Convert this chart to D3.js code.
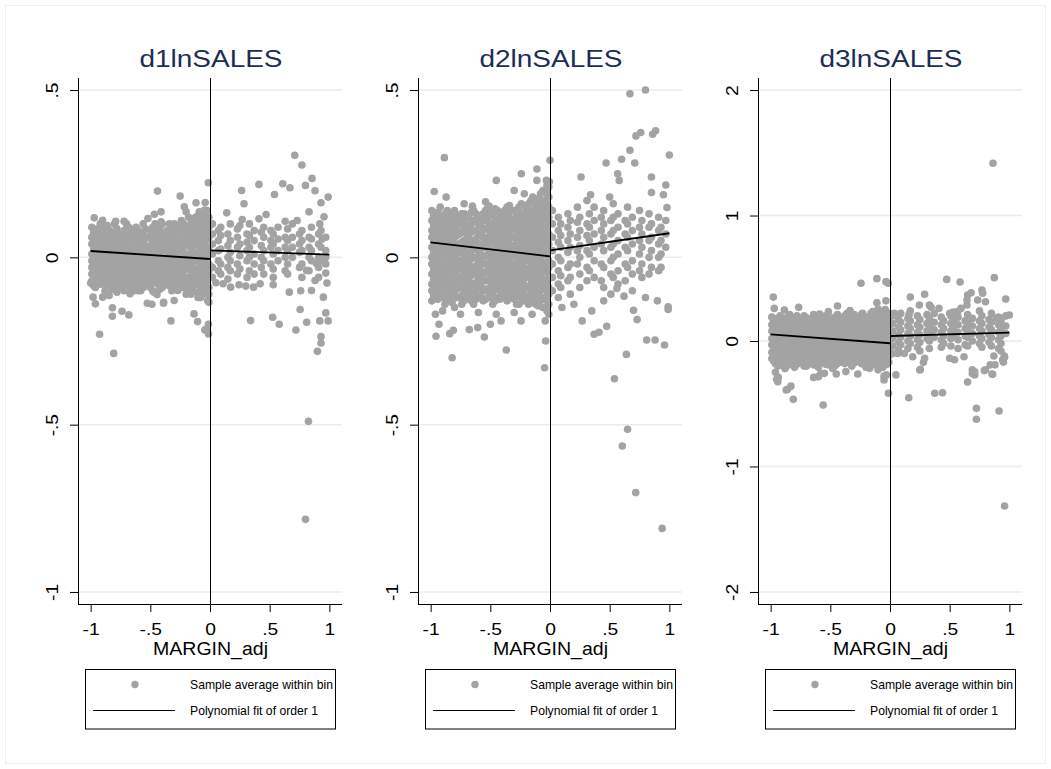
<!DOCTYPE html>
<html>
<head>
<meta charset="utf-8">
<title>RD bin plots</title>
<style>
  body { margin: 0; background: #fff; }
  text { font-family: Arial, "Liberation Sans", sans-serif; }
</style>
</head>
<body>
<script src="https://d3js.org/d3.v7.min.js"></script>
<script>

// ---- data ----
var panelTitles = ["d1lnSALES", "d2lnSALES", "d3lnSALES"];
var xTicks = [-1, -0.5, 0, 0.5, 1];
var xTickLabels = ["-1", "-.5", "0", ".5", "1"];
var yTicksA = [-1, -0.5, 0, 0.5];
var yTickLabelsA = ["-1", "-.5", "0", ".5"];
var yTicksB = [-2, -1, 0, 1, 2];
var yTickLabelsB = ["-2", "-1", "0", "1", "2"];
var legendLabels = ["Sample average within bin", "Polynomial fit of order 1"];
var xTitle = "MARGIN_adj";

// bins grouped by x column: [x, [y, ...]]
var d1Cols = [
  [-0.99, [0.09, 0.06, 0.04, 0.01, -0.01, -0.03, -0.05, -0.07]],
  [-0.96, [0.07, 0.05, 0.02, 0.0, -0.02, -0.04, -0.06, -0.09]],
  [-0.92, [0.1, 0.08, 0.05, 0.03, 0.01, -0.02, -0.04, -0.06, -0.08]],
  [-0.88, [0.09, 0.06, 0.04, 0.02, -0.01, -0.03, -0.05, -0.07, -0.1]],
  [-0.84, [0.08, 0.05, 0.03, 0.0, -0.02, -0.04, -0.06, -0.08]],
  [-0.80, [0.1, 0.07, 0.04, 0.02, -0.01, -0.03, -0.05, -0.07, -0.09]],
  [-0.76, [0.06, 0.03, 0.01, -0.02, -0.04, -0.06, -0.08]],
  [-0.72, [0.08, 0.05, 0.02, 0.0, -0.02, -0.05, -0.07, -0.1]],
  [-0.68, [0.09, 0.06, 0.04, 0.01, -0.01, -0.03, -0.06, -0.08]],
  [-0.64, [0.07, 0.05, 0.02, 0.0, -0.03, -0.05, -0.07, -0.1]],
  [-0.60, [0.08, 0.06, 0.03, 0.01, -0.01, -0.04, -0.06, -0.08]],
  [-0.56, [0.1, 0.07, 0.04, 0.02, -0.01, -0.03, -0.05, -0.07, -0.09]],
  [-0.52, [0.06, 0.03, 0.01, -0.02, -0.04, -0.06, -0.08]],
  [-0.48, [0.09, 0.07, 0.05, 0.02, 0.0, -0.02, -0.05, -0.07, -0.1]],
  [-0.44, [0.08, 0.05, 0.03, 0.01, -0.01, -0.04, -0.06, -0.08]],
  [-0.40, [0.1, 0.07, 0.04, 0.02, -0.01, -0.03, -0.05, -0.07, -0.09]],
  [-0.36, [0.08, 0.06, 0.03, 0.0, -0.02, -0.04, -0.06, -0.08]],
  [-0.32, [0.09, 0.07, 0.05, 0.02, 0.0, -0.03, -0.05, -0.07, -0.1]],
  [-0.28, [0.08, 0.06, 0.03, 0.01, -0.01, -0.04, -0.06, -0.08]],
  [-0.24, [0.11, 0.08, 0.05, 0.02, 0.0, -0.02, -0.05, -0.07, -0.09]],
  [-0.20, [0.09, 0.07, 0.04, 0.01, -0.01, -0.03, -0.06, -0.08]],
  [-0.16, [0.1, 0.08, 0.05, 0.03, 0.0, -0.02, -0.04, -0.07, -0.09, -0.11]],
  [-0.12, [0.12, 0.09, 0.06, 0.04, 0.01, -0.01, -0.04, -0.06, -0.08]],
  [-0.08, [0.11, 0.08, 0.05, 0.03, 0.0, -0.02, -0.05, -0.07, -0.09, -0.12]],
  [-0.04, [0.13, 0.1, 0.07, 0.05, 0.02, 0.0, -0.03, -0.05, -0.08, -0.1]],
  [-0.01, [0.12, 0.09, 0.06, 0.03, 0.01, -0.02, -0.04, -0.06, -0.09, -0.11]],
  [0.02, [0.1, 0.07, 0.04, 0.01, -0.03, -0.06]],
  [0.07, [0.08, 0.05, 0.02, -0.01, -0.04]],
  [0.09, [0.09, 0.065, 0.025, -0.02, -0.05]],
  [0.15, [0.07, 0.035, 0.0, -0.03, -0.065]],
  [0.17, [0.1, 0.05, 0.015, -0.01, -0.04]],
  [0.23, [0.085, 0.06, 0.03, -0.02, -0.05]],
  [0.25, [0.095, 0.04, 0.005, -0.035]],
  [0.31, [0.07, 0.045, 0.02, -0.01, -0.06]],
  [0.33, [0.1, 0.065, 0.03, 0.0, -0.04]],
  [0.37, [0.08, 0.05, 0.01, -0.02, -0.05]],
  [0.43, [0.075, 0.035, 0.0, -0.03]],
  [0.45, [0.09, 0.06, 0.02, -0.01, -0.05]],
  [0.51, [0.08, 0.05, 0.03, -0.02]],
  [0.53, [0.07, 0.04, 0.01, -0.035, -0.06]],
  [0.57, [0.09, 0.055, 0.02, -0.01]],
  [0.63, [0.06, 0.03, 0.0, -0.04]],
  [0.65, [0.085, 0.05, 0.02, -0.02, -0.05]],
  [0.69, [0.1, 0.06, 0.03, 0.0]],
  [0.75, [0.07, 0.04, 0.015, -0.03]],
  [0.77, [0.08, 0.05, 0.02, -0.02, -0.06]],
  [0.83, [0.06, 0.03, 0.0, -0.04]],
  [0.85, [0.09, 0.055, 0.02, -0.01]],
  [0.91, [0.07, 0.04, 0.0, -0.03, -0.06]],
  [0.93, [0.08, 0.03, -0.01]],
  [0.97, [0.06, 0.02, -0.02]]
];
var d1ColsB = [
  [-0.975, [0.075, 0.05, 0.025, 0.0, -0.02, -0.045, -0.065, -0.085]],
  [-0.94, [0.085, 0.065, 0.035, 0.015, -0.01, -0.03, -0.05, -0.075]],
  [-0.90, [0.07, 0.045, 0.015, -0.005, -0.03, -0.055, -0.08]],
  [-0.86, [0.095, 0.07, 0.045, 0.01, -0.015, -0.035, -0.06, -0.085]],
  [-0.82, [0.065, 0.04, 0.015, -0.01, -0.03, -0.05, -0.07, -0.095]],
  [-0.78, [0.085, 0.055, 0.03, 0.005, -0.02, -0.045, -0.065]],
  [-0.74, [0.07, 0.045, 0.02, -0.01, -0.03, -0.055, -0.09]],
  [-0.70, [0.1, 0.065, 0.035, 0.01, -0.015, -0.04, -0.065, -0.085]],
  [-0.66, [0.075, 0.05, 0.025, -0.005, -0.02, -0.045, -0.07, -0.09]],
  [-0.62, [0.09, 0.06, 0.035, 0.01, -0.015, -0.035, -0.06, -0.085]],
  [-0.58, [0.07, 0.045, 0.02, -0.005, -0.025, -0.05, -0.07, -0.1]],
  [-0.54, [0.085, 0.055, 0.03, 0.005, -0.02, -0.045, -0.065, -0.085]],
  [-0.50, [0.08, 0.06, 0.035, 0.01, -0.01, -0.035, -0.06, -0.09]],
  [-0.46, [0.1, 0.065, 0.04, 0.015, -0.01, -0.03, -0.055, -0.075]],
  [-0.42, [0.085, 0.06, 0.03, 0.005, -0.02, -0.045, -0.07, -0.095]],
  [-0.38, [0.07, 0.045, 0.02, -0.01, -0.03, -0.05, -0.075]],
  [-0.34, [0.1, 0.08, 0.06, 0.035, 0.01, -0.015, -0.04, -0.06, -0.085]],
  [-0.30, [0.09, 0.07, 0.045, 0.02, -0.005, -0.025, -0.05, -0.07, -0.095]],
  [-0.26, [0.095, 0.065, 0.04, 0.015, -0.01, -0.03, -0.055, -0.08]],
  [-0.22, [0.1, 0.08, 0.055, 0.03, 0.005, -0.015, -0.04, -0.065, -0.09]],
  [-0.18, [0.12, 0.085, 0.06, 0.035, 0.01, -0.015, -0.035, -0.06, -0.08, -0.1]],
  [-0.14, [0.11, 0.075, 0.045, 0.02, -0.005, -0.03, -0.05, -0.075, -0.1]],
  [-0.10, [0.125, 0.095, 0.07, 0.04, 0.015, -0.01, -0.035, -0.055, -0.08, -0.105]],
  [-0.06, [0.12, 0.09, 0.065, 0.04, 0.01, -0.015, -0.04, -0.06, -0.085, -0.11]],
  [-0.025, [0.14, 0.11, 0.08, 0.055, 0.03, 0.005, -0.02, -0.045, -0.07, -0.095]]
];
var d1Extra = [
  [0.71,0.305],[0.77,0.276],[0.855,0.236],[0.80,0.215],[0.88,0.199],[0.99,0.18],[0.93,0.163],[0.61,0.22],
  [0.67,0.208],[0.41,0.218],[0.54,0.188],[0.265,0.2],[0.285,0.16],[0.14,0.133],[0.27,0.113],[0.41,0.115],
  [0.47,0.128],[0.63,0.108],[0.73,0.11],[0.83,0.136],[0.955,0.121],[0.92,0.10],[0.94,0.055],[0.97,0.0],
  [0.97,-0.047],[0.89,-0.018],[0.81,-0.039],[0.88,-0.069],[0.98,-0.077],[0.95,-0.119],[0.85,-0.099],
  [0.76,-0.1],[0.665,-0.104],[0.97,-0.166],[0.99,-0.19],[0.92,-0.19],[0.81,-0.194],[0.72,-0.217],
  [0.755,-0.156],[0.58,-0.2],[0.525,-0.179],[0.34,-0.189],[0.93,-0.237],[0.93,-0.256],[0.90,-0.281],
  [0.53,-0.082],[0.42,-0.079],[0.365,-0.089],[0.30,-0.086],[0.243,-0.082],[0.173,-0.089],[0.11,-0.079],
  [0.05,-0.076],[0.825,-0.49],[0.80,-0.783],
  [-0.96,-0.139],[-0.925,-0.23],[-0.818,-0.151],[-0.818,-0.176],[-0.737,-0.161],[-0.68,-0.172],
  [-0.807,-0.287],[-0.525,-0.137],[-0.487,-0.14],[-0.39,-0.137],[-0.327,-0.19],[-0.30,-0.129],
  [-0.134,-0.169],[-0.104,-0.192],[-0.013,-0.2],[-0.043,-0.217],[-0.013,-0.229],[-0.01,-0.134],
  [-0.98,-0.119],[-0.90,-0.119],[-0.845,-0.114],[-0.78,-0.104],[-1.0,-0.077],[-0.67,-0.109],
  [-0.67,-0.089],[-0.444,-0.111],[-0.388,-0.134],[-0.47,-0.104],[-0.27,-0.099],[-0.03,-0.214],
  [-0.02,-0.129],[-0.6,-0.1],[-0.2,-0.11],[-0.1,-0.12],
  [-0.014,0.223],[-0.44,0.198],[-0.25,0.183],[-0.04,0.164],[-0.117,0.163],[-0.215,0.151],[-0.2,0.136],
  [-0.41,0.136],[-0.466,0.129],[-0.52,0.116],[-0.97,0.118],[-0.9,0.111],[-0.79,0.108],[-0.72,0.108],
  [-0.65,0.081],[-0.41,0.106],[-0.3,0.1],[-0.16,0.116],[-0.09,0.136],[-0.045,0.141]
];
var d1FitLeft = [[-1, 0.019], [0, -0.005]];
var d1FitRight = [[0, 0.021], [1, 0.008]];

var d2Cols = [
  [-0.99, [0.14, 0.11, 0.08, 0.06, 0.03, 0.0, -0.02, -0.05, -0.08, -0.1, -0.13]],
  [-0.96, [0.12, 0.09, 0.07, 0.04, 0.01, -0.01, -0.04, -0.06, -0.09, -0.12]],
  [-0.92, [0.15, 0.12, 0.1, 0.07, 0.05, 0.02, -0.01, -0.03, -0.06, -0.08, -0.11]],
  [-0.88, [0.13, 0.11, 0.08, 0.05, 0.03, 0.0, -0.02, -0.05, -0.07, -0.1, -0.14]],
  [-0.84, [0.12, 0.09, 0.06, 0.04, 0.01, -0.01, -0.04, -0.07, -0.09, -0.12]],
  [-0.80, [0.14, 0.11, 0.08, 0.06, 0.03, 0.0, -0.03, -0.05, -0.08, -0.11, -0.15]],
  [-0.76, [0.12, 0.1, 0.07, 0.04, 0.02, -0.01, -0.03, -0.06, -0.09, -0.12]],
  [-0.72, [0.13, 0.11, 0.08, 0.05, 0.03, 0.0, -0.02, -0.05, -0.07, -0.1, -0.13]],
  [-0.68, [0.12, 0.09, 0.06, 0.04, 0.01, -0.02, -0.04, -0.07, -0.1, -0.12]],
  [-0.64, [0.14, 0.11, 0.08, 0.05, 0.03, 0.0, -0.03, -0.05, -0.08, -0.11, -0.14]],
  [-0.60, [0.12, 0.1, 0.07, 0.04, 0.02, -0.01, -0.03, -0.06, -0.09, -0.12]],
  [-0.56, [0.13, 0.11, 0.08, 0.06, 0.03, 0.0, -0.02, -0.05, -0.07, -0.1, -0.13]],
  [-0.52, [0.15, 0.12, 0.09, 0.06, 0.04, 0.01, -0.02, -0.04, -0.07, -0.1, -0.12]],
  [-0.48, [0.13, 0.1, 0.08, 0.05, 0.02, 0.0, -0.03, -0.05, -0.08, -0.11, -0.14]],
  [-0.44, [0.14, 0.11, 0.09, 0.06, 0.03, 0.01, -0.02, -0.04, -0.07, -0.09, -0.12]],
  [-0.40, [0.12, 0.1, 0.07, 0.04, 0.02, -0.01, -0.03, -0.06, -0.08, -0.11]],
  [-0.36, [0.15, 0.13, 0.1, 0.08, 0.05, 0.03, 0.0, -0.02, -0.05, -0.08, -0.1, -0.13]],
  [-0.32, [0.14, 0.11, 0.09, 0.06, 0.03, 0.01, -0.02, -0.04, -0.07, -0.09, -0.12]],
  [-0.28, [0.13, 0.1, 0.08, 0.05, 0.02, 0.0, -0.03, -0.06, -0.08, -0.11, -0.14]],
  [-0.24, [0.16, 0.13, 0.11, 0.08, 0.05, 0.03, 0.0, -0.02, -0.05, -0.07, -0.1, -0.12]],
  [-0.20, [0.14, 0.12, 0.09, 0.06, 0.04, 0.01, -0.01, -0.04, -0.06, -0.09, -0.12]],
  [-0.16, [0.17, 0.14, 0.11, 0.08, 0.06, 0.03, 0.0, -0.02, -0.05, -0.08, -0.1, -0.13]],
  [-0.12, [0.15, 0.13, 0.1, 0.07, 0.05, 0.02, -0.01, -0.03, -0.06, -0.08, -0.11, -0.14]],
  [-0.08, [0.19, 0.16, 0.13, 0.1, 0.08, 0.05, 0.02, 0.0, -0.03, -0.05, -0.08, -0.1, -0.13]],
  [-0.04, [0.2, 0.17, 0.14, 0.12, 0.09, 0.06, 0.04, 0.01, -0.02, -0.04, -0.07, -0.09, -0.12, -0.15]],
  [-0.01, [0.21, 0.18, 0.15, 0.12, 0.1, 0.07, 0.04, 0.02, -0.01, -0.03, -0.06, -0.09, -0.11, -0.14, -0.17]],
  [0.02, [0.14, 0.1, 0.06, 0.02, -0.02, -0.06, -0.1]],
  [0.07, [0.12, 0.08, 0.045, 0.0, -0.04, -0.08, -0.12]],
  [0.09, [0.1, 0.065, 0.03, -0.01, -0.055, -0.09]],
  [0.15, [0.13, 0.09, 0.05, 0.015, -0.03, -0.07]],
  [0.17, [0.11, 0.07, 0.03, -0.02, -0.06, -0.11]],
  [0.23, [0.15, 0.105, 0.06, 0.02, -0.02]],
  [0.25, [0.12, 0.08, 0.035, 0.0, -0.05, -0.09]],
  [0.31, [0.17, 0.1, 0.065, 0.02, -0.03, -0.07]],
  [0.33, [0.13, 0.09, 0.05, 0.01, -0.04]],
  [0.37, [0.15, 0.11, 0.07, 0.03, -0.01, -0.06]],
  [0.43, [0.12, 0.08, 0.04, -0.02, -0.07]],
  [0.45, [0.14, 0.1, 0.06, 0.02, -0.03, -0.09]],
  [0.51, [0.11, 0.07, 0.03, -0.01, -0.05, -0.11]],
  [0.53, [0.16, 0.12, 0.08, 0.04, 0.0, -0.06]],
  [0.57, [0.13, 0.09, 0.05, 0.01, -0.04, -0.08]],
  [0.63, [0.11, 0.07, 0.03, -0.02, -0.07]],
  [0.65, [0.15, 0.1, 0.06, 0.02, -0.03]],
  [0.69, [0.12, 0.08, 0.04, -0.01, -0.05, -0.1]],
  [0.75, [0.14, 0.09, 0.05, 0.01, -0.04]],
  [0.77, [0.11, 0.07, 0.03, -0.02, -0.06]],
  [0.83, [0.13, 0.09, 0.05, 0.0, -0.05]],
  [0.85, [0.1, 0.06, 0.02, -0.03]],
  [0.91, [0.12, 0.08, 0.04, 0.0, -0.04]],
  [0.93, [0.09, 0.05, 0.01, -0.03]],
  [0.97, [0.11, 0.07, 0.03]]
];
var d2ColsB = [
  [-0.975, [0.125, 0.095, 0.07, 0.045, 0.015, -0.01, -0.035, -0.065, -0.09, -0.115]],
  [-0.94, [0.135, 0.11, 0.085, 0.055, 0.03, 0.005, -0.02, -0.045, -0.07, -0.1, -0.125]],
  [-0.90, [0.12, 0.09, 0.065, 0.035, 0.015, -0.015, -0.04, -0.065, -0.085, -0.12]],
  [-0.86, [0.14, 0.1, 0.07, 0.045, 0.02, -0.005, -0.03, -0.055, -0.08, -0.11, -0.13]],
  [-0.82, [0.13, 0.1, 0.075, 0.05, 0.02, -0.005, -0.025, -0.055, -0.08, -0.105, -0.135]],
  [-0.78, [0.125, 0.09, 0.065, 0.04, 0.01, -0.015, -0.04, -0.07, -0.095, -0.12]],
  [-0.74, [0.13, 0.1, 0.075, 0.045, 0.015, -0.01, -0.035, -0.06, -0.085, -0.115, -0.14]],
  [-0.70, [0.12, 0.095, 0.07, 0.04, 0.015, -0.015, -0.04, -0.065, -0.09, -0.11]],
  [-0.66, [0.135, 0.1, 0.075, 0.05, 0.02, -0.005, -0.03, -0.055, -0.085, -0.115, -0.13]],
  [-0.62, [0.13, 0.105, 0.08, 0.055, 0.025, 0.0, -0.025, -0.05, -0.075, -0.1, -0.125]],
  [-0.58, [0.125, 0.095, 0.065, 0.04, 0.01, -0.015, -0.04, -0.065, -0.085, -0.115]],
  [-0.54, [0.14, 0.11, 0.085, 0.055, 0.03, 0.005, -0.02, -0.045, -0.07, -0.095, -0.125]],
  [-0.50, [0.13, 0.1, 0.07, 0.045, 0.02, -0.01, -0.035, -0.06, -0.09, -0.12]],
  [-0.46, [0.145, 0.115, 0.09, 0.065, 0.035, 0.01, -0.015, -0.04, -0.065, -0.095, -0.13]],
  [-0.42, [0.13, 0.105, 0.075, 0.05, 0.025, -0.005, -0.03, -0.05, -0.08, -0.1, -0.125]],
  [-0.38, [0.14, 0.11, 0.085, 0.06, 0.035, 0.01, -0.015, -0.045, -0.07, -0.095, -0.12]],
  [-0.34, [0.155, 0.12, 0.095, 0.07, 0.04, 0.015, -0.01, -0.035, -0.06, -0.085, -0.115]],
  [-0.30, [0.14, 0.115, 0.085, 0.06, 0.035, 0.005, -0.02, -0.045, -0.07, -0.1, -0.125]],
  [-0.26, [0.15, 0.12, 0.095, 0.065, 0.04, 0.015, -0.01, -0.04, -0.065, -0.09, -0.115, -0.14]],
  [-0.22, [0.155, 0.125, 0.1, 0.07, 0.045, 0.02, -0.005, -0.03, -0.055, -0.08, -0.11, -0.13]],
  [-0.18, [0.16, 0.13, 0.1, 0.075, 0.05, 0.02, -0.005, -0.035, -0.06, -0.09, -0.115, -0.14]],
  [-0.14, [0.165, 0.14, 0.115, 0.09, 0.06, 0.035, 0.01, -0.015, -0.045, -0.07, -0.095, -0.125]],
  [-0.10, [0.175, 0.145, 0.115, 0.09, 0.065, 0.035, 0.01, -0.015, -0.04, -0.065, -0.095, -0.12, -0.145]],
  [-0.06, [0.2, 0.17, 0.145, 0.115, 0.09, 0.065, 0.035, 0.01, -0.015, -0.04, -0.065, -0.095, -0.12, -0.15]],
  [-0.025, [0.215, 0.19, 0.16, 0.135, 0.11, 0.08, 0.055, 0.03, 0.005, -0.02, -0.045, -0.075, -0.1, -0.13, -0.16]]
];
var d2Extra = [
  [0.67,0.489],[0.80,0.5],[0.72,0.363],[0.76,0.373],[0.86,0.368],[0.885,0.378],[0.67,0.32],[0.71,0.282],
  [0.60,0.293],[0.47,0.282],[1.0,0.306],[0.85,0.24],[0.97,0.216],[0.85,0.194],[0.95,0.187],[0.98,0.149],
  [0.567,0.25],[0.58,0.23],[0.26,0.24],[0.34,0.187],[0.5,0.18],[0.0,0.29],[-0.11,0.264],[-0.11,0.23],
  [-0.24,0.25],[-0.45,0.23],[-0.885,0.298],[-0.97,0.197],[-0.87,0.18],[-0.3,0.2],[-0.215,0.19],
  [-0.03,0.23],[-0.005,0.226],[-0.72,0.16],[-0.65,0.153],[-0.54,0.166],[-0.51,0.153],[-0.145,0.18],
  [-0.10,0.174],
  [-0.93,-0.2],[-0.955,-0.236],[-0.84,-0.228],[-0.81,-0.218],[-0.82,-0.3],[-0.676,-0.216],[-0.606,-0.21],
  [-0.55,-0.238],[-0.5,-0.2],[-0.41,-0.19],[-0.366,-0.277],[-0.243,-0.19],[-0.036,-0.25],[-0.045,-0.33],
  [0.27,-0.19],[0.37,-0.23],[0.41,-0.224],[0.475,-0.206],[0.64,-0.29],[0.81,-0.247],[0.88,-0.247],
  [0.96,-0.262],[0.99,-0.148],[0.99,-0.156],[0.7,-0.158],[0.73,-0.186],[0.62,-0.116],[0.56,-0.093],
  [0.54,-0.363],[0.65,-0.514],[0.606,-0.564],[0.718,-0.703],[0.94,-0.81],
  [-0.96,-0.17],[-0.9,-0.16],[-0.75,-0.17],[-0.6,-0.165],[-0.45,-0.17],[-0.3,-0.165],[-0.15,-0.17],
  [-0.04,-0.19],[0.1,-0.15],[0.2,-0.14],[0.35,-0.16],[0.45,-0.13],[0.8,-0.12],[0.9,-0.13]
];
var d2FitLeft = [[-1, 0.045], [0, 0.003]];
var d2FitRight = [[0, 0.021], [1, 0.072]];

var d3Cols = [
  [-0.99, [0.19, 0.13, 0.08, 0.02, -0.03, -0.09, -0.14]],
  [-0.96, [0.16, 0.1, 0.05, -0.01, -0.06, -0.12, -0.18]],
  [-0.92, [0.2, 0.14, 0.09, 0.03, -0.02, -0.08, -0.13, -0.19]],
  [-0.88, [0.17, 0.11, 0.06, 0.0, -0.05, -0.11, -0.16, -0.22]],
  [-0.84, [0.21, 0.15, 0.1, 0.04, -0.01, -0.07, -0.12, -0.18]],
  [-0.80, [0.18, 0.12, 0.07, 0.01, -0.04, -0.1, -0.15, -0.21]],
  [-0.76, [0.16, 0.11, 0.05, 0.0, -0.06, -0.11, -0.17]],
  [-0.72, [0.2, 0.14, 0.08, 0.03, -0.03, -0.08, -0.14, -0.2]],
  [-0.68, [0.17, 0.12, 0.06, 0.01, -0.05, -0.1, -0.16]],
  [-0.64, [0.21, 0.15, 0.09, 0.04, -0.02, -0.07, -0.13, -0.19]],
  [-0.60, [0.18, 0.13, 0.07, 0.02, -0.04, -0.09, -0.15, -0.21]],
  [-0.56, [0.16, 0.1, 0.05, -0.01, -0.06, -0.12, -0.17]],
  [-0.52, [0.2, 0.14, 0.08, 0.03, -0.03, -0.08, -0.14, -0.19]],
  [-0.48, [0.17, 0.12, 0.06, 0.0, -0.05, -0.11, -0.16, -0.22]],
  [-0.44, [0.21, 0.15, 0.1, 0.04, -0.02, -0.07, -0.13, -0.18]],
  [-0.40, [0.18, 0.13, 0.07, 0.01, -0.04, -0.1, -0.15]],
  [-0.36, [0.22, 0.16, 0.11, 0.05, 0.0, -0.06, -0.11, -0.17]],
  [-0.32, [0.19, 0.14, 0.08, 0.02, -0.03, -0.09, -0.14, -0.2]],
  [-0.28, [0.17, 0.11, 0.06, 0.0, -0.05, -0.11, -0.16]],
  [-0.24, [0.21, 0.15, 0.09, 0.04, -0.02, -0.07, -0.13, -0.18]],
  [-0.20, [0.18, 0.12, 0.07, 0.01, -0.04, -0.1, -0.15, -0.21]],
  [-0.16, [0.22, 0.16, 0.11, 0.05, -0.01, -0.06, -0.12, -0.17]],
  [-0.12, [0.2, 0.14, 0.08, 0.03, -0.03, -0.08, -0.14, -0.19]],
  [-0.08, [0.23, 0.17, 0.12, 0.06, 0.0, -0.05, -0.11, -0.16]],
  [-0.04, [0.25, 0.19, 0.14, 0.08, 0.03, -0.03, -0.08, -0.14, -0.19]],
  [-0.01, [0.22, 0.16, 0.1, 0.05, -0.01, -0.06, -0.12, -0.17]],
  [0.02, [0.2, 0.14, 0.08, 0.02, -0.04, -0.1]],
  [0.07, [0.17, 0.11, 0.05, -0.01, -0.07]],
  [0.09, [0.22, 0.15, 0.09, 0.03, -0.03]],
  [0.15, [0.18, 0.12, 0.06, 0.0, -0.06]],
  [0.17, [0.24, 0.16, 0.1, 0.04, -0.02]],
  [0.23, [0.2, 0.13, 0.07, 0.01, -0.05]],
  [0.25, [0.17, 0.11, 0.05, -0.01, -0.08]],
  [0.31, [0.21, 0.14, 0.08, 0.02]],
  [0.33, [0.18, 0.12, 0.06, 0.0, -0.06]],
  [0.37, [0.22, 0.15, 0.09, 0.03]],
  [0.43, [0.19, 0.13, 0.07, 0.01, -0.05]],
  [0.45, [0.16, 0.1, 0.04, -0.02]],
  [0.51, [0.2, 0.14, 0.08, 0.02, -0.04]],
  [0.53, [0.23, 0.17, 0.11, 0.05]],
  [0.57, [0.19, 0.13, 0.07, 0.01, -0.06]],
  [0.63, [0.16, 0.1, 0.04, -0.03]],
  [0.65, [0.21, 0.15, 0.09, 0.03, -0.04]],
  [0.69, [0.18, 0.12, 0.06, 0.0]],
  [0.75, [0.24, 0.16, 0.1, 0.04, -0.02]],
  [0.77, [0.2, 0.14, 0.08, 0.02, -0.05]],
  [0.83, [0.17, 0.11, 0.05, -0.01]],
  [0.85, [0.22, 0.15, 0.09, 0.03, -0.04]],
  [0.91, [0.19, 0.13, 0.07, 0.01, -0.06]],
  [0.93, [0.16, 0.1, 0.04, -0.02, -0.08]],
  [0.97, [0.2, 0.12, 0.06]]
];
var d3ColsB = [
  [-0.975, [0.16, 0.105, 0.05, 0.0, -0.055, -0.11, -0.16]],
  [-0.94, [0.18, 0.12, 0.07, 0.015, -0.04, -0.095, -0.15, -0.2]],
  [-0.90, [0.15, 0.095, 0.04, -0.015, -0.07, -0.125, -0.175]],
  [-0.86, [0.19, 0.13, 0.08, 0.025, -0.03, -0.085, -0.14, -0.195]],
  [-0.82, [0.16, 0.1, 0.05, -0.005, -0.06, -0.115, -0.165]],
  [-0.78, [0.2, 0.14, 0.09, 0.035, -0.02, -0.075, -0.13, -0.185]],
  [-0.74, [0.17, 0.115, 0.06, 0.005, -0.05, -0.105, -0.16]],
  [-0.70, [0.185, 0.13, 0.075, 0.02, -0.035, -0.09, -0.145, -0.2]],
  [-0.66, [0.15, 0.095, 0.04, -0.015, -0.07, -0.125, -0.18]],
  [-0.62, [0.19, 0.135, 0.08, 0.025, -0.03, -0.085, -0.14]],
  [-0.58, [0.16, 0.105, 0.05, -0.005, -0.06, -0.115, -0.17]],
  [-0.54, [0.2, 0.145, 0.09, 0.035, -0.02, -0.075, -0.13, -0.185]],
  [-0.50, [0.175, 0.12, 0.065, 0.01, -0.045, -0.1, -0.155]],
  [-0.46, [0.19, 0.135, 0.08, 0.025, -0.03, -0.085, -0.14, -0.195]],
  [-0.42, [0.16, 0.105, 0.05, -0.005, -0.06, -0.115, -0.17]],
  [-0.38, [0.2, 0.145, 0.09, 0.035, -0.02, -0.075, -0.13, -0.18]],
  [-0.34, [0.175, 0.12, 0.065, 0.01, -0.045, -0.1, -0.155]],
  [-0.30, [0.21, 0.155, 0.1, 0.045, -0.01, -0.065, -0.12, -0.175]],
  [-0.26, [0.185, 0.13, 0.075, 0.02, -0.035, -0.09, -0.145]],
  [-0.22, [0.2, 0.145, 0.09, 0.035, -0.02, -0.075, -0.13, -0.185]],
  [-0.18, [0.175, 0.12, 0.065, 0.01, -0.045, -0.1, -0.155, -0.2]],
  [-0.14, [0.21, 0.155, 0.1, 0.045, -0.01, -0.065, -0.12, -0.175]],
  [-0.10, [0.19, 0.135, 0.08, 0.025, -0.03, -0.085, -0.14, -0.19]],
  [-0.06, [0.225, 0.17, 0.115, 0.06, 0.005, -0.05, -0.105, -0.16, -0.21]],
  [-0.025, [0.2, 0.145, 0.09, 0.035, -0.02, -0.075, -0.13, -0.185]]
];
var d3Extra = [
  [0.863,1.416],[0.96,-1.315],[0.724,-0.536],[0.724,-0.624],[0.914,-0.558],[-0.56,-0.51],[-0.81,-0.465],
  [-0.013,-0.417],[0.157,-0.452],[0.375,-0.417],[0.44,-0.412],[0.65,-0.327],[0.71,-0.245],[0.71,-0.27],
  [0.79,-0.236],[0.855,-0.263],[0.25,-0.231],[0.28,-0.17],[0.05,-0.27],[-0.03,-0.27],[-0.05,-0.31],
  [-0.96,-0.25],[-0.95,-0.305],[-0.94,-0.324],[-0.87,-0.39],[-0.83,-0.36],[-0.64,-0.29],[-0.58,-0.26],
  [0.95,-0.168],[0.96,-0.13],[0.88,-0.19],
  [-0.243,0.46],[-0.11,0.497],[-0.034,0.473],[-0.014,0.46],[0.475,0.491],[0.587,0.47],[0.874,0.505],
  [-0.978,0.35],[0.17,0.35],[0.29,0.372],[0.65,0.367],[0.68,0.385],[0.77,0.406],[0.777,0.38],[0.8,0.313],
  [0.735,0.327],[0.97,0.335],[-0.11,0.305],[-0.034,0.32],[1.0,0.207],[-0.97,0.26],[-0.885,0.247],
  [-0.765,0.268],[-0.44,0.279],[-0.335,0.242],[-0.23,0.22],[-0.516,0.234],[-0.59,0.215],[-0.145,0.234],
  [-0.10,0.255],[0.036,0.22],[0.16,0.212],[0.246,0.287],[0.33,0.287],[0.344,0.268],[0.41,0.26],[0.5,0.22],
  [0.567,0.234],[0.595,0.26],[0.645,0.327],[0.645,0.287],[0.89,0.18],[0.925,0.173],
  [-0.936,-0.29],[-0.858,-0.385],[-0.6,-0.284],[-0.55,-0.258],[-0.45,-0.263],[-0.37,-0.244],[-0.27,-0.263],
  [-0.17,-0.218],[-0.1,-0.23],[-0.05,-0.28],[0.254,-0.226],[0.69,-0.23],[0.69,-0.26],[0.8,-0.23],
  [0.84,-0.19],[0.86,-0.265],[0.944,-0.15],[0.958,-0.12],[0.87,-0.12],[0.62,-0.125],[0.5,-0.138],
  [0.54,-0.15],[0.29,-0.138],[0.19,-0.125],[0.12,-0.1],[0.064,-0.1]
];
var d3FitLeft = [[-1, 0.053], [0, -0.018]];
var d3FitRight = [[0, 0.04], [1, 0.066]];

// ---- layout ----
var width = 1051, height = 769;
var plotTop = 78, plotBottom = 604, plotW = 264;
var dotColor = "#a3a3a3";
var gridColor = "#e6eef0";

var svg = d3.select("body")
    .append("svg")
    .attr("width", width)
    .attr("height", height);

svg.append("rect")
    .attr("x", 5.5).attr("y", 5.5)
    .attr("width", 1040).attr("height", 758)
    .attr("fill", "#fff")
    .attr("stroke", "#eaf0f2");

function flatten(colsA, colsB, extra) {
  var pts = [];
  colsA.concat(colsB).forEach(function(c){
    c[1].forEach(function(y){ pts.push([c[0], y]); });
  });
  return pts.concat(extra);
}

var panels = [
  {left: 78,  title: panelTitles[0], pts: flatten(d1Cols, d1ColsB, d1Extra), fits: [d1FitLeft, d1FitRight],
   yDomain: [-1.036, 0.536], yTicks: yTicksA, yLabels: yTickLabelsA},
  {left: 418, title: panelTitles[1], pts: flatten(d2Cols, d2ColsB, d2Extra), fits: [d2FitLeft, d2FitRight],
   yDomain: [-1.036, 0.536], yTicks: yTicksA, yLabels: yTickLabelsA},
  {left: 758, title: panelTitles[2], pts: flatten(d3Cols, d3ColsB, d3Extra), fits: [d3FitLeft, d3FitRight],
   yDomain: [-2.096, 2.096], yTicks: yTicksB, yLabels: yTickLabelsB}
];

panels.forEach(function(p){
  var x = d3.scaleLinear().domain([-1.106, 1.106]).range([p.left, p.left + plotW]);
  var y = d3.scaleLinear().domain(p.yDomain).range([plotBottom, plotTop]);
  var g = svg.append("g");

  // grid lines
  g.selectAll(".grid")
    .data(p.yTicks)
    .enter().append("line")
    .attr("x1", p.left).attr("x2", p.left + plotW)
    .attr("y1", function(d){ return y(d); })
    .attr("y2", function(d){ return y(d); })
    .attr("stroke", gridColor)
    .attr("stroke-width", 1.5);

  // bins
  g.selectAll("circle")
    .data(p.pts)
    .enter().append("circle")
    .attr("cx", function(d){ return x(d[0]); })
    .attr("cy", function(d){ return y(d[1]); })
    .attr("r", 3.8)
    .attr("fill", dotColor);

  // cutoff line
  var x0 = Math.round(x(0)) + 0.5;
  g.append("line")
    .attr("x1", x0).attr("x2", x0)
    .attr("y1", plotTop).attr("y2", plotBottom)
    .attr("stroke", "#000").attr("stroke-width", 1);

  // linear fits
  var line = d3.line()
    .x(function(d){ return x(d[0]); })
    .y(function(d){ return y(d[1]); });
  p.fits.forEach(function(f){
    g.append("path")
      .attr("d", line(f))
      .attr("fill", "none")
      .attr("stroke", "#000")
      .attr("stroke-width", 1.8);
  });

  // axes
  var yAxis = d3.axisLeft(y)
    .tickValues(p.yTicks)
    .tickFormat(function(d, i){ return p.yLabels[i]; })
    .tickSizeInner(8).tickSizeOuter(0).tickPadding(4);
  var ya = g.append("g")
    .attr("transform", "translate(" + p.left + ",0)")
    .call(yAxis);
  ya.select(".domain").attr("d", "M0.5," + plotTop + "V" + plotBottom).attr("stroke", "#000");
  ya.selectAll(".tick line").attr("stroke", "#000");
  ya.selectAll(".tick text")
    .attr("transform", "rotate(-90)")
    .attr("x", 0).attr("y", -20).attr("dy", 0)
    .attr("text-anchor", "middle")
    .style("font-size", "16px")
    .style("font-family", "Arial, 'Liberation Sans', sans-serif")
    .attr("fill", "#000")
    .attr("textLength", function(){ return this.getComputedTextLength() * 1.2; })
    .attr("lengthAdjust", "spacingAndGlyphs");

  var xAxis = d3.axisBottom(x)
    .tickValues(xTicks)
    .tickFormat(function(d, i){ return xTickLabels[i]; })
    .tickSizeInner(8).tickSizeOuter(0);
  var xa = g.append("g")
    .attr("transform", "translate(0," + plotBottom + ")")
    .call(xAxis);
  xa.select(".domain").attr("d", "M" + p.left + ",0.5H" + (p.left + plotW)).attr("stroke", "#000");
  xa.selectAll(".tick line").attr("stroke", "#000");
  xa.selectAll(".tick text")
    .attr("y", 31).attr("dy", 0)
    .style("font-size", "16px")
    .style("font-family", "Arial, 'Liberation Sans', sans-serif")
    .attr("fill", "#000")
    .attr("textLength", function(){ return this.getComputedTextLength() * 1.2; })
    .attr("lengthAdjust", "spacingAndGlyphs");

  // titles
  g.append("text")
    .attr("x", x(0) + 1).attr("y", 67)
    .attr("text-anchor", "middle")
    .style("font-size", "23px")
    .attr("fill", "#1c2d57")
    .attr("textLength", 143).attr("lengthAdjust", "spacingAndGlyphs")
    .text(p.title);

  g.append("text")
    .attr("x", x(0) + 0.5).attr("y", 655)
    .attr("text-anchor", "middle")
    .style("font-size", "18.5px")
    .attr("fill", "#000")
    .attr("textLength", 115).attr("lengthAdjust", "spacingAndGlyphs")
    .text(xTitle);

  // legend
  var lx = p.left + 7, ly = 669.5;
  var lg = g.append("g");
  lg.append("rect")
    .attr("x", lx + 0.5).attr("y", ly)
    .attr("width", 250).attr("height", 59.5)
    .attr("fill", "#fff").attr("stroke", "#000").attr("stroke-width", 1);
  lg.append("circle")
    .attr("cx", lx + 50).attr("cy", ly + 15)
    .attr("r", 3.7).attr("fill", dotColor);
  lg.append("line")
    .attr("x1", lx + 8).attr("x2", lx + 90)
    .attr("y1", ly + 41).attr("y2", ly + 41)
    .attr("stroke", "#000").attr("stroke-width", 1.2);
  lg.selectAll(".ltext")
    .data(legendLabels)
    .enter().append("text")
    .attr("x", lx + 105)
    .attr("y", function(d, i){ return ly + 19 + i * 26.5; })
    .style("font-size", "12.2px")
    .attr("fill", "#000")
    .text(function(d){ return d; });
});

</script>
</body>
</html>
